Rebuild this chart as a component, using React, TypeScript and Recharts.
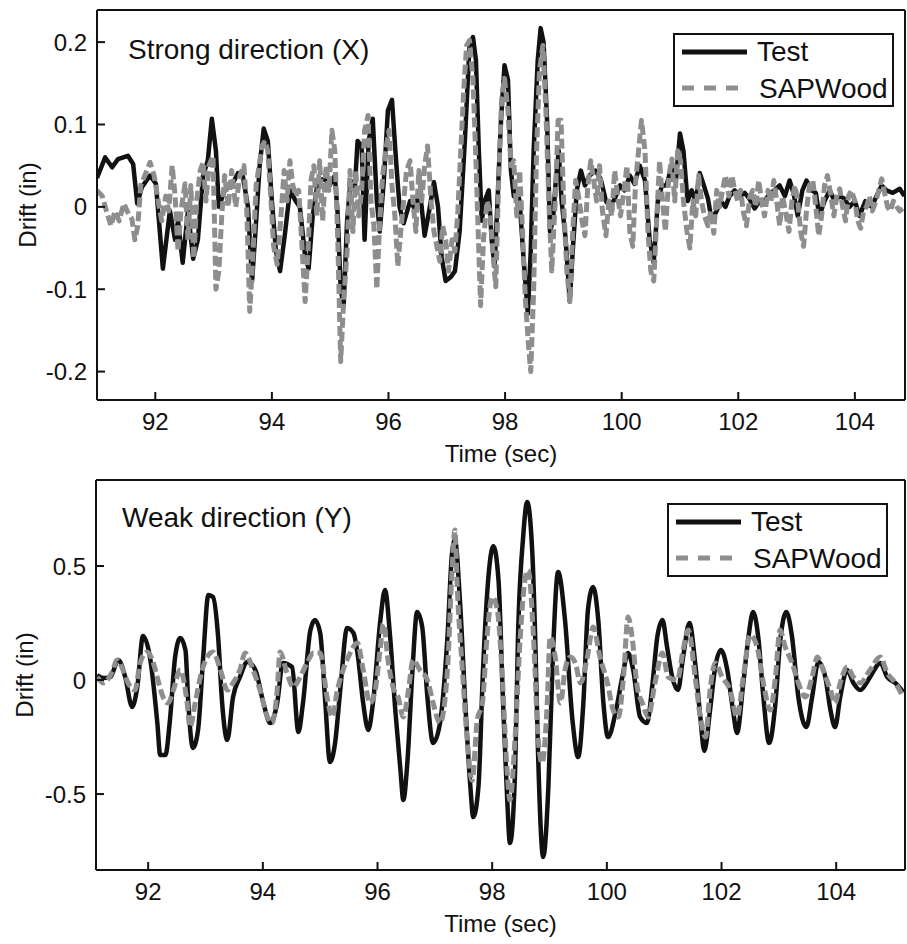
import { LineChart, Line, XAxis, YAxis, Legend } from 'recharts'

// drift time histories, [time (sec), drift (in)]
const testX: [number, number][] = [
  [91.0, 0.035], [91.14, 0.06], [91.26, 0.048], [91.36, 0.058], [91.53, 0.062], [91.62, 0.052], [91.69, 0.004], [91.77, 0.024],
  [91.91, 0.038], [92.01, 0.028], [92.13, -0.075], [92.25, -0.005], [92.34, -0.04], [92.39, -0.017], [92.47, -0.068], [92.56, -0.005],
  [92.65, -0.063], [92.73, -0.04], [92.82, 0.038], [92.9, 0.056], [92.97, 0.107], [93.04, 0.068], [93.09, 0.0], [93.19, 0.02],
  [93.31, 0.026], [93.42, 0.041], [93.5, 0.038], [93.59, 0.0], [93.66, -0.09], [93.73, -0.017], [93.79, 0.05], [93.86, 0.095],
  [93.93, 0.08], [94.0, 0.007], [94.07, -0.054], [94.14, -0.078], [94.22, -0.035], [94.31, 0.02], [94.41, 0.007], [94.48, 0.0],
  [94.57, -0.06], [94.63, -0.075], [94.7, -0.011], [94.79, 0.032], [94.91, 0.034], [94.99, 0.026], [95.08, 0.038], [95.13, -0.01],
  [95.18, -0.1], [95.23, -0.12], [95.29, -0.017], [95.35, 0.032], [95.42, 0.02], [95.47, 0.08], [95.54, 0.074], [95.59, -0.04],
  [95.66, 0.08], [95.73, 0.107], [95.8, 0.007], [95.85, -0.03], [95.92, 0.032], [95.99, 0.117], [96.06, 0.13], [96.13, 0.056],
  [96.19, 0.0], [96.26, -0.02], [96.37, 0.007], [96.45, -0.002], [96.54, 0.02], [96.62, -0.035], [96.71, 0.0], [96.78, 0.03],
  [96.85, 0.0], [96.91, -0.06], [96.98, -0.09], [97.07, -0.085], [97.14, -0.078], [97.22, -0.03], [97.31, 0.08], [97.39, 0.196],
  [97.45, 0.206], [97.5, 0.178], [97.55, 0.068], [97.6, -0.017], [97.65, 0.007], [97.72, 0.02], [97.77, -0.04], [97.82, -0.072],
  [97.87, 0.007], [97.93, 0.105], [97.99, 0.172], [98.05, 0.154], [98.1, 0.044], [98.15, 0.013], [98.2, 0.02], [98.25, 0.007],
  [98.32, -0.066], [98.39, -0.13], [98.44, -0.054], [98.49, 0.068], [98.56, 0.178], [98.61, 0.217], [98.66, 0.2], [98.72, 0.105],
  [98.77, -0.03], [98.82, -0.017], [98.87, 0.032], [98.92, 0.068], [98.97, 0.007], [99.04, -0.04], [99.11, -0.115], [99.16, -0.054],
  [99.23, 0.02], [99.3, 0.044], [99.37, 0.026], [99.45, 0.038], [99.55, 0.044], [99.64, 0.034], [99.73, 0.007], [99.81, 0.0],
  [99.9, 0.013], [99.97, 0.026], [100.05, 0.02], [100.14, 0.038], [100.22, 0.028], [100.31, 0.05], [100.4, 0.032], [100.48, -0.04],
  [100.55, -0.068], [100.62, 0.007], [100.69, 0.026], [100.77, 0.026], [100.86, 0.05], [100.93, 0.032], [101.0, 0.089], [101.06, 0.068],
  [101.13, 0.007], [101.2, 0.02], [101.27, 0.007], [101.34, 0.041], [101.41, 0.026], [101.48, 0.01], [101.54, -0.015], [101.63, -0.005],
  [101.7, 0.007], [101.78, 0.0], [101.85, 0.013], [101.94, 0.02], [102.02, 0.013], [102.11, 0.017], [102.19, 0.01], [102.28, -0.002],
  [102.37, 0.007], [102.45, 0.007], [102.54, 0.016], [102.62, 0.02], [102.71, 0.026], [102.8, 0.013], [102.88, 0.032], [102.95, 0.016],
  [103.02, -0.011], [103.1, 0.02], [103.17, 0.032], [103.26, 0.02], [103.33, 0.017], [103.39, -0.011], [103.48, 0.007], [103.57, 0.02],
  [103.65, 0.007], [103.74, 0.013], [103.82, 0.01], [103.91, 0.0], [104.0, 0.007], [104.08, -0.011], [104.18, 0.007], [104.29, 0.0],
  [104.37, 0.013], [104.46, 0.026], [104.54, 0.02], [104.65, 0.017], [104.77, 0.022], [104.85, 0.013],
]

const sapX: [number, number][] = [
  [91.0, 0.02], [91.09, 0.013], [91.17, -0.007], [91.24, -0.023], [91.31, -0.005], [91.38, -0.017], [91.46, 0.004], [91.53, -0.007],
  [91.6, -0.015], [91.65, -0.04], [91.7, -0.023], [91.75, 0.026], [91.82, 0.038], [91.91, 0.054], [91.98, 0.038], [92.05, 0.007],
  [92.11, -0.017], [92.18, 0.013], [92.23, -0.005], [92.29, 0.05], [92.34, 0.013], [92.39, -0.054], [92.44, -0.005], [92.51, 0.028],
  [92.56, -0.04], [92.61, 0.026], [92.66, -0.063], [92.71, 0.007], [92.77, 0.044], [92.82, 0.054], [92.87, 0.007], [92.92, 0.05],
  [92.99, 0.062], [93.04, -0.1], [93.09, -0.078], [93.14, -0.011], [93.19, 0.038], [93.25, 0.0], [93.31, 0.044], [93.38, 0.0],
  [93.45, 0.038], [93.52, 0.05], [93.57, -0.005], [93.62, -0.127], [93.67, -0.066], [93.73, 0.026], [93.78, 0.05], [93.83, 0.074],
  [93.88, 0.08], [93.93, 0.068], [93.98, 0.013], [94.03, -0.048], [94.09, -0.07], [94.15, -0.017], [94.21, 0.044], [94.26, 0.007],
  [94.31, 0.056], [94.36, 0.026], [94.41, 0.013], [94.46, 0.02], [94.51, -0.04], [94.57, -0.115], [94.62, -0.054], [94.67, 0.032],
  [94.72, 0.05], [94.77, -0.011], [94.82, 0.056], [94.87, -0.017], [94.93, 0.05], [94.98, 0.02], [95.03, 0.093], [95.08, 0.068],
  [95.13, -0.04], [95.18, -0.188], [95.23, -0.115], [95.29, -0.054], [95.34, 0.044], [95.39, -0.03], [95.44, 0.044], [95.49, -0.011],
  [95.54, 0.02], [95.59, 0.093], [95.65, 0.111], [95.7, 0.007], [95.75, -0.023], [95.8, -0.1], [95.85, -0.017], [95.9, 0.038],
  [95.95, 0.068], [96.01, 0.093], [96.06, 0.026], [96.11, -0.011], [96.16, -0.072], [96.21, -0.03], [96.26, 0.007], [96.31, 0.044],
  [96.37, 0.056], [96.42, 0.007], [96.47, -0.03], [96.52, 0.044], [96.57, 0.007], [96.62, 0.05], [96.67, 0.074], [96.73, 0.007],
  [96.78, -0.03], [96.83, -0.048], [96.88, -0.066], [96.93, -0.023], [96.98, -0.04], [97.03, -0.078], [97.09, -0.04], [97.14, -0.054],
  [97.19, -0.005], [97.24, 0.068], [97.29, 0.141], [97.34, 0.196], [97.39, 0.202], [97.45, 0.154], [97.5, 0.056], [97.55, -0.054],
  [97.58, -0.12], [97.63, -0.04], [97.69, 0.007], [97.74, -0.005], [97.79, -0.054], [97.84, -0.097], [97.89, 0.032], [97.94, 0.13],
  [97.99, 0.156], [98.05, 0.117], [98.1, 0.05], [98.15, 0.056], [98.2, -0.011], [98.25, 0.044], [98.3, -0.03], [98.35, -0.115],
  [98.41, -0.176], [98.44, -0.2], [98.49, -0.102], [98.54, 0.068], [98.59, 0.166], [98.65, 0.196], [98.7, 0.117], [98.75, 0.007],
  [98.8, -0.078], [98.86, 0.007], [98.91, 0.105], [98.96, 0.105], [99.01, -0.005], [99.06, -0.078], [99.11, -0.115], [99.16, -0.03],
  [99.21, 0.032], [99.26, 0.013], [99.32, -0.017], [99.37, -0.035], [99.42, 0.026], [99.47, 0.056], [99.52, 0.032], [99.57, 0.007],
  [99.62, 0.05], [99.67, -0.005], [99.73, -0.035], [99.78, 0.007], [99.83, -0.011], [99.88, 0.044], [99.93, 0.013], [99.98, -0.011],
  [100.04, 0.02], [100.09, 0.05], [100.14, -0.03], [100.19, -0.048], [100.24, 0.032], [100.29, 0.068], [100.34, 0.105], [100.4, 0.068],
  [100.45, -0.03], [100.5, -0.078], [100.55, -0.09], [100.6, -0.017], [100.65, 0.056], [100.7, 0.007], [100.75, -0.03], [100.81, 0.038],
  [100.86, 0.058], [100.91, 0.007], [100.96, 0.068], [101.01, 0.056], [101.06, 0.007], [101.12, -0.03], [101.17, -0.05], [101.22, 0.007],
  [101.27, -0.011], [101.32, 0.038], [101.37, 0.007], [101.42, -0.011], [101.48, -0.023], [101.53, -0.005], [101.58, -0.032], [101.63, 0.02],
  [101.68, 0.0], [101.73, 0.02], [101.78, 0.038], [101.84, 0.013], [101.89, 0.038], [101.94, 0.02], [101.99, 0.007], [102.04, 0.02],
  [102.09, -0.007], [102.14, -0.023], [102.2, 0.013], [102.25, 0.02], [102.3, 0.0], [102.35, 0.032], [102.4, 0.007], [102.45, -0.011],
  [102.51, 0.02], [102.56, 0.007], [102.61, 0.032], [102.66, 0.007], [102.71, -0.023], [102.76, 0.013], [102.81, -0.005], [102.87, -0.03],
  [102.92, 0.007], [102.97, 0.026], [103.02, 0.007], [103.07, -0.03], [103.12, -0.048], [103.17, -0.005], [103.22, 0.026], [103.28, 0.032],
  [103.33, 0.0], [103.38, -0.035], [103.43, -0.011], [103.48, 0.026], [103.53, 0.038], [103.59, 0.013], [103.64, -0.011], [103.69, 0.013],
  [103.74, 0.022], [103.79, 0.0], [103.84, -0.017], [103.89, 0.013], [103.94, 0.02], [104.0, 0.007], [104.05, -0.017], [104.1, -0.026],
  [104.15, -0.005], [104.2, 0.0], [104.25, 0.013], [104.3, -0.005], [104.36, 0.007], [104.41, 0.02], [104.46, 0.034], [104.51, 0.017],
  [104.56, 0.0], [104.61, -0.005], [104.66, 0.007], [104.72, 0.0], [104.77, -0.005], [104.85, 0.0],
]

const testY: [number, number][] = [
  [91.11, 0.022], [91.22, 0.009], [91.34, 0.013], [91.48, 0.088], [91.6, 0.013], [91.72, -0.118], [91.81, -0.031], [91.91, 0.193],
  [92.03, 0.101], [92.16, -0.189], [92.21, -0.329], [92.3, -0.329], [92.38, -0.175], [92.47, 0.101], [92.56, 0.184], [92.65, 0.132],
  [92.7, -0.101], [92.78, -0.298], [92.87, -0.219], [92.96, 0.101], [93.05, 0.373], [93.13, 0.364], [93.22, 0.189], [93.29, -0.101],
  [93.38, -0.263], [93.48, -0.075], [93.6, 0.013], [93.73, 0.079], [93.87, 0.044], [94.01, -0.101], [94.13, -0.189], [94.25, -0.101],
  [94.35, 0.075], [94.51, 0.057], [94.62, -0.228], [94.7, -0.101], [94.83, 0.219], [94.91, 0.263], [95.0, 0.206], [95.09, -0.101],
  [95.17, -0.36], [95.26, -0.276], [95.35, -0.044], [95.47, 0.228], [95.58, 0.206], [95.66, 0.101], [95.75, -0.101], [95.84, -0.219],
  [95.92, -0.101], [96.05, 0.263], [96.13, 0.395], [96.22, 0.189], [96.31, -0.132], [96.4, -0.395], [96.45, -0.526], [96.52, -0.364],
  [96.61, 0.044], [96.69, 0.298], [96.78, 0.232], [96.87, -0.075], [96.97, -0.276], [97.09, -0.189], [97.22, 0.189], [97.3, 0.557],
  [97.35, 0.614], [97.44, 0.338], [97.53, -0.101], [97.62, -0.469], [97.67, -0.601], [97.76, -0.469], [97.84, 0.044], [97.93, 0.439],
  [98.02, 0.588], [98.11, 0.439], [98.19, -0.101], [98.26, -0.513], [98.31, -0.715], [98.4, -0.395], [98.45, 0.189], [98.54, 0.627],
  [98.61, 0.781], [98.7, 0.557], [98.75, 0.189], [98.8, -0.32], [98.89, -0.776], [98.98, -0.469], [99.06, 0.118], [99.15, 0.474],
  [99.27, 0.263], [99.4, -0.175], [99.5, -0.338], [99.59, -0.101], [99.67, 0.307], [99.76, 0.408], [99.85, 0.263], [99.94, -0.101],
  [100.02, -0.25], [100.15, -0.145], [100.27, 0.013], [100.37, 0.118], [100.46, 0.044], [100.58, -0.162], [100.7, -0.189], [100.79, -0.031],
  [100.88, 0.189], [100.97, 0.263], [101.05, 0.145], [101.14, 0.013], [101.24, -0.044], [101.33, 0.101], [101.44, 0.25], [101.54, 0.075],
  [101.63, -0.162], [101.7, -0.311], [101.8, -0.132], [101.89, 0.057], [101.99, 0.132], [102.1, 0.044], [102.2, -0.132], [102.27, -0.232],
  [102.38, -0.013], [102.47, 0.189], [102.55, 0.298], [102.64, 0.189], [102.73, -0.075], [102.83, -0.276], [102.94, -0.101], [103.02, 0.162],
  [103.13, 0.298], [103.23, 0.189], [103.34, -0.075], [103.48, -0.206], [103.58, -0.075], [103.69, 0.079], [103.81, 0.013], [103.9, -0.132],
  [103.98, -0.206], [104.07, -0.075], [104.19, 0.044], [104.3, -0.013], [104.42, -0.044], [104.59, 0.013], [104.77, 0.075], [104.89, 0.013],
  [105.03, -0.013], [105.17, -0.053],
]

const sapY: [number, number][] = [
  [91.11, 0.013], [91.22, -0.013], [91.37, 0.035], [91.46, 0.088], [91.56, 0.044], [91.65, -0.013], [91.77, -0.044], [91.86, 0.075],
  [91.98, 0.123], [92.09, 0.075], [92.17, 0.0], [92.26, -0.075], [92.35, -0.101], [92.44, -0.044], [92.56, 0.044], [92.68, -0.101],
  [92.73, -0.206], [92.82, -0.101], [92.91, 0.013], [93.03, 0.101], [93.13, 0.123], [93.26, 0.044], [93.38, -0.044], [93.48, -0.013],
  [93.6, 0.044], [93.69, 0.118], [93.83, 0.044], [93.95, -0.044], [94.08, -0.162], [94.16, -0.189], [94.25, -0.044], [94.3, 0.123],
  [94.42, 0.031], [94.53, -0.031], [94.65, 0.013], [94.77, 0.075], [94.88, 0.118], [95.0, 0.118], [95.12, -0.075], [95.21, -0.162],
  [95.3, -0.044], [95.4, 0.044], [95.49, 0.101], [95.65, 0.162], [95.75, 0.044], [95.87, -0.101], [95.96, -0.044], [96.05, 0.145],
  [96.1, 0.246], [96.19, 0.075], [96.27, -0.031], [96.36, -0.075], [96.45, -0.162], [96.54, -0.044], [96.62, 0.088], [96.74, 0.044],
  [96.87, 0.0], [96.97, -0.101], [97.09, -0.189], [97.22, 0.044], [97.3, 0.482], [97.35, 0.658], [97.39, 0.408], [97.48, 0.044],
  [97.56, -0.25], [97.65, -0.44], [97.74, -0.175], [97.83, -0.101], [97.91, 0.189], [98.0, 0.364], [98.09, 0.307], [98.17, 0.044],
  [98.26, -0.395], [98.31, -0.526], [98.4, -0.25], [98.49, 0.189], [98.58, 0.452], [98.63, 0.482], [98.72, 0.189], [98.8, -0.25],
  [98.87, -0.364], [98.96, -0.101], [99.01, 0.189], [99.1, 0.101], [99.19, -0.101], [99.27, 0.044], [99.36, 0.101], [99.45, 0.075],
  [99.54, -0.013], [99.66, 0.101], [99.76, 0.232], [99.88, 0.101], [100.01, -0.013], [100.11, -0.132], [100.2, -0.162], [100.29, 0.013],
  [100.37, 0.276], [100.44, 0.189], [100.53, -0.031], [100.62, -0.101], [100.72, -0.162], [100.84, -0.013], [100.97, 0.118], [101.07, 0.013],
  [101.23, 0.0], [101.33, 0.132], [101.42, 0.219], [101.54, 0.013], [101.63, -0.162], [101.72, -0.25], [101.8, -0.044], [101.89, 0.075],
  [102.01, 0.013], [102.15, -0.044], [102.27, -0.162], [102.38, 0.013], [102.5, 0.197], [102.62, 0.145], [102.73, -0.013], [102.85, -0.132],
  [102.94, 0.013], [103.02, 0.219], [103.11, 0.145], [103.23, 0.075], [103.34, -0.013], [103.46, -0.075], [103.58, 0.013], [103.67, 0.101],
  [103.77, 0.044], [103.9, -0.044], [103.98, -0.101], [104.07, -0.013], [104.19, 0.057], [104.3, 0.013], [104.42, -0.013], [104.59, 0.044],
  [104.77, 0.101], [104.89, 0.031], [105.03, -0.013], [105.17, -0.075],
]

const TIME_TICKS = [92, 94, 96, 98, 100, 102, 104]
const STRONG_TICKS = [-0.2, -0.1, 0, 0.1, 0.2]
const WEAK_TICKS = [-0.5, 0, 0.5]
const SERIES_NAMES = ['Test', 'SAPWood']

const FONT = '"Liberation Sans", Arial, sans-serif'
const INK = '#111'
const GRAY = '#8e8e8e'

const toRows = (pairs: [number, number][]) => pairs.map(([t, v]) => ({ t, v }))

function LegendBox() {
  return (
    <div style={{ width: 221, height: 74, boxSizing: 'border-box', border: '2px solid #111', background: '#fff', position: 'relative', fontFamily: FONT }}>
      <svg width={217} height={70} style={{ position: 'absolute', left: 0, top: 0 }}>
        <line x1={7} x2={72} y1={17} y2={17} stroke={INK} strokeWidth={5} />
        <line x1={7} x2={72} y1={53} y2={53} stroke={GRAY} strokeWidth={5} strokeDasharray="12 10" />
        <text x={82} y={26} fontSize={28} fill={INK} fontFamily={FONT}>{SERIES_NAMES[0]}</text>
        <text x={84} y={63} fontSize={28} fill={INK} fontFamily={FONT}>{SERIES_NAMES[1]}</text>
      </svg>
    </div>
  )
}

function DriftLabel({ viewBox, cx }: any) {
  const cy = viewBox.y + viewBox.height / 2
  return (
    <text x={cx} y={cy} transform={`rotate(-90, ${cx}, ${cy})`} textAnchor="middle" dominantBaseline="central"
      fontSize={24} fill={INK} fontFamily={FONT}>Drift (in)</text>
  )
}

interface PanelProps {
  test: [number, number][]
  sap: [number, number][]
  xDomain: [number, number]
  yDomain: [number, number]
  yTicks: number[]
  yAxisWidth: number
  labelX: number
  legendPos: { left: number; top: number }
  curve: 'linear' | 'monotone'
}

function Panel({ test, sap, xDomain, yDomain, yTicks, yAxisWidth, labelX, legendPos, curve }: PanelProps) {
  const axisStroke = { stroke: INK, strokeWidth: 2 }
  const tickStyle = { fontSize: 24, fill: INK, fontFamily: FONT }
  const testRows = toRows(test)
  return (
    <LineChart width={907} height={470} margin={{ top: 9, right: 1, bottom: 0, left: 0 }}>
      <XAxis xAxisId="main" type="number" dataKey="t" domain={xDomain} allowDataOverflow ticks={TIME_TICKS} interval={0}
        height={70} tickSize={-8} tickMargin={21} axisLine={axisStroke} tickLine={axisStroke} tick={tickStyle}
        label={{ value: 'Time (sec)', position: 'insideBottom', offset: 8, fontSize: 24, fill: INK, fontFamily: FONT }} />
      <XAxis xAxisId="top" orientation="top" type="number" dataKey="t" domain={xDomain} allowDataOverflow ticks={TIME_TICKS} interval={0}
        height={1} tickSize={-8} tick={false} axisLine={axisStroke} tickLine={axisStroke} />
      <YAxis yAxisId="main" type="number" domain={yDomain} allowDataOverflow ticks={yTicks} interval={0}
        width={yAxisWidth} tickSize={-8} tickMargin={18} axisLine={axisStroke} tickLine={axisStroke} tick={tickStyle}
        label={<DriftLabel cx={labelX} />} />
      <YAxis yAxisId="right" orientation="right" type="number" domain={yDomain} allowDataOverflow ticks={yTicks} interval={0}
        width={1} tickSize={-8} tick={false} axisLine={axisStroke} tickLine={axisStroke} />
      <Legend verticalAlign="middle" align="center" layout="horizontal" content={() => <LegendBox />}
        wrapperStyle={{ left: legendPos.left, top: legendPos.top, width: 221, height: 74 }} />
      {/* invisible copy bound to the top/right axes so the box frame gets drawn */}
      <Line xAxisId="top" yAxisId="right" data={testRows} dataKey="v" stroke="none" dot={false} legendType="none"
        isAnimationActive={false} />
      <Line xAxisId="main" yAxisId="main" data={testRows} dataKey="v" name={SERIES_NAMES[0]} type={curve}
        stroke={INK} strokeWidth={4.5} dot={false} strokeLinejoin="round" isAnimationActive={false} />
      <Line xAxisId="main" yAxisId="main" data={toRows(sap)} dataKey="v" name={SERIES_NAMES[1]} type={curve}
        stroke={GRAY} strokeWidth={5} strokeDasharray="10 4" dot={false} strokeLinejoin="round" isAnimationActive={false} />
    </LineChart>
  )
}

export default function App() {
  const titleStyle: React.CSSProperties = { position: 'absolute', fontFamily: FONT, fontSize: 28, lineHeight: '28px', color: INK, whiteSpace: 'nowrap' }
  return (
    <div style={{ position: 'absolute', left: 0, top: 0, width: 907, height: 944, background: '#fff', overflow: 'hidden' }}>
      <div style={{ position: 'absolute', left: 0, top: 0 }}>
        <Panel test={testX} sap={sapX} xDomain={[91.0, 104.86]} yDomain={[-0.2345, 0.239]} yTicks={STRONG_TICKS}
          yAxisWidth={97} labelX={27} legendPos={{ left: 673, top: 33 }} curve="linear" />
      </div>
      <div style={{ position: 'absolute', left: 0, top: 470 }}>
        <Panel test={testY} sap={sapY} xDomain={[91.09, 105.2]} yDomain={[-0.833, 0.877]} yTicks={WEAK_TICKS}
          yAxisWidth={96} labelX={24} legendPos={{ left: 667, top: 33 }} curve="monotone" />
      </div>
      <span style={{ ...titleStyle, left: 128, top: 36 }}>Strong direction (X)</span>
      <span style={{ ...titleStyle, left: 122, top: 504 }}>Weak direction (Y)</span>
    </div>
  )
}
